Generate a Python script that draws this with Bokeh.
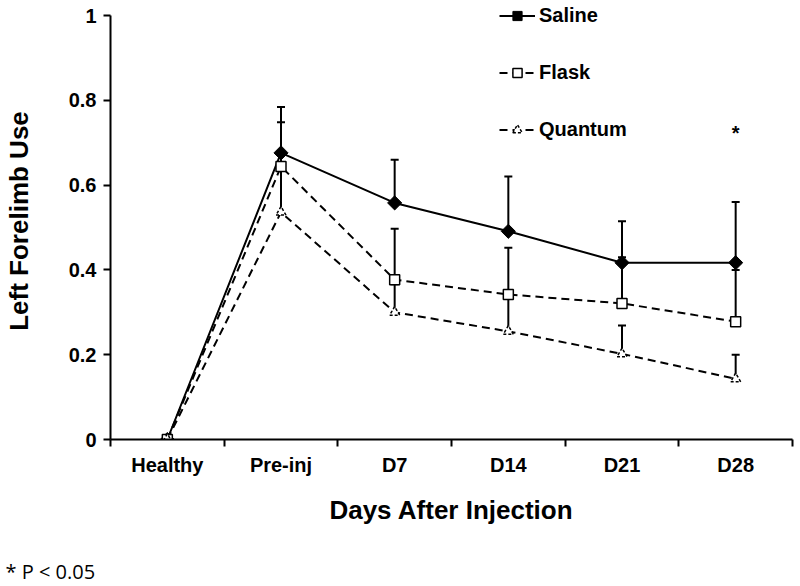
import numpy as np
from bokeh.plotting import figure
from bokeh.models import (Range1d, FixedTicker, Whisker, TeeHead, ColumnDataSource,
                          Legend, LegendItem, Title)
from bokeh.core.properties import value
from bokeh.embed import file_html
from bokeh.resources import INLINE

# ---- data ----
categories = ["Healthy", "Pre-inj", "D7", "D14", "D21", "D28"]
saline = [0.0, 0.676, 0.558, 0.491, 0.417, 0.417]
saline_upper = [0.0, 0.784, 0.660, 0.620, 0.515, 0.560]
flask = [0.0, 0.644, 0.377, 0.342, 0.321, 0.278]
flask_upper = [0.0, 0.748, 0.497, 0.452, 0.430, 0.400]
quantum = [0.0, 0.536, 0.300, 0.255, 0.202, 0.143]
quantum_upper = [0.0, 0.640, 0.366, 0.340, 0.269, 0.200]
y_ticks = [0, 0.2, 0.4, 0.6, 0.8, 1.0]
y_tick_labels = ["0", "0.2", "0.4", "0.6", "0.8", "1"]
sig_category = ["D28"]
sig_y = [0.724]

FONT = "Liberation Sans"

xc = np.arange(len(categories)) + 0.5  # category centres

# frame extends a little above y=1 so the legend's first entry is not clipped
p = figure(width=798, height=586, output_backend="svg", toolbar_location=None,
           x_range=Range1d(0, len(categories)), y_range=Range1d(0, 437 / 424),
           min_border_left=108, min_border_right=6, min_border_top=2,
           min_border_bottom=147)
p.outline_line_color = None
p.grid.visible = False
p.background_fill_color = "white"
p.border_fill_color = "white"

# x axis: labels at centres, tick marks at category boundaries
xa = p.xaxis[0]
xa.ticker = FixedTicker(ticks=list(xc), minor_ticks=list(range(len(categories) + 1)))
xa.major_label_overrides = {float(c): lab for c, lab in zip(xc, categories)}
xa.major_tick_out = 0
xa.major_tick_in = 0
xa.minor_tick_out = 7
xa.minor_tick_in = 0
xa.minor_tick_line_color = "black"
xa.minor_tick_line_width = 2
xa.axis_line_width = 2
xa.axis_line_color = "black"
xa.major_label_text_font = FONT
xa.major_label_text_font_style = "bold"
xa.major_label_text_font_size = "20px"
xa.major_label_text_color = "black"
xa.major_label_standoff = 7
xa.axis_label = "Days After Injection"
xa.axis_label_text_font = FONT
xa.axis_label_text_font_style = "bold"
xa.axis_label_text_font_size = "26px"
xa.axis_label_text_color = "black"
xa.axis_label_standoff = 16

ya = p.yaxis[0]
ya.bounds = (0, 1)
ya.ticker = FixedTicker(ticks=y_ticks, minor_ticks=[])
ya.major_label_overrides = {float(t): l for t, l in zip(y_ticks, y_tick_labels)}
ya.major_tick_out = 7
ya.major_tick_in = 0
ya.major_tick_line_width = 2
ya.axis_line_width = 2
ya.axis_line_color = "black"
ya.major_label_text_font = FONT
ya.major_label_text_font_style = "bold"
ya.major_label_text_font_size = "20px"
ya.major_label_text_color = "black"
ya.major_label_standoff = 7
ya.axis_label = "Left Forelimb Use"
ya.axis_label_text_font = FONT
ya.axis_label_text_font_style = "bold"
ya.axis_label_text_font_size = "26px"
ya.axis_label_text_color = "black"
ya.axis_label_standoff = 32

series = [
    ("Saline", saline, saline_upper, None, dict(marker="square", angle=np.pi / 4, size=10,
                                               fill_color="black", line_color="black")),
    ("Flask", flask, flask_upper, "8 5", dict(marker="square", size=10, fill_color="white",
                                             line_color="black", line_width=1.5)),
    ("Quantum", quantum, quantum_upper, "8 5", dict(marker="triangle", size=10, fill_color="white",
                                                 line_color="black", line_width=1.5,
                                                 line_dash="3 2")),
]

for name, vals, upper, dash, mk in series:
    src = ColumnDataSource(dict(x=xc[1:], y=vals[1:], upper=upper[1:]))
    w = Whisker(source=src, base="x", lower="y", upper="upper", dimension="height",
                line_color="black", line_width=2,
                upper_head=TeeHead(size=8, line_color="black", line_width=2), lower_head=None)
    p.add_layout(w)

line_renderers = []
for name, vals, upper, dash, mk in series:
    lkw = dict(line_color="black", line_width=2)
    if dash:
        lkw["line_dash"] = dash
    line_renderers.append(p.line(xc, vals, **lkw))

items = []
for (name, vals, upper, dash, mk), lr in zip(series, line_renderers):
    sr = p.scatter(xc, vals, **mk)
    items.append(LegendItem(label=name, renderers=[lr, sr]))

# significance marker
sig_x = [xc[categories.index(c)] for c in sig_category]
p.text(sig_x, sig_y, text=["*"] * len(sig_x), text_font=value(FONT), text_font_style="bold",
       text_font_size="20px", text_align="center", text_baseline="alphabetic", text_color="black")

legend = Legend(items=items, location=(389, 298), orientation="vertical",
                glyph_width=36, glyph_height=23, label_height=23, spacing=34,
                padding=0, margin=0, border_line_color=None, background_fill_alpha=0,
                label_text_font=FONT, label_text_font_style="bold", label_text_font_size="20px",
                label_text_color="black", label_standoff=4)
p.add_layout(legend, "center")

foot = Title(text="* P < 0.05", align="left", offset=-105, standoff=0,
             padding=dict(left=0, right=0, top=30, bottom=0),
             text_font="Open Sans", text_font_style="normal", text_font_size="20px",
             text_color="black", vertical_align="top")
p.add_layout(foot, "below")

open("out.html", "w").write(file_html(p, INLINE))
